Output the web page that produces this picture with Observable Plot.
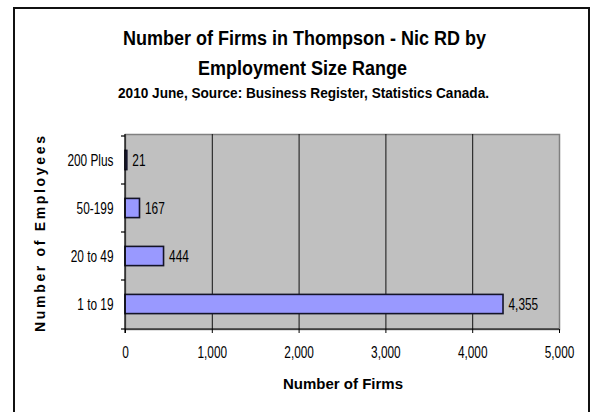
<!DOCTYPE html>
<html><head><meta charset="utf-8">
<script src="https://cdn.jsdelivr.net/npm/d3@7"></script>
<script src="https://cdn.jsdelivr.net/npm/@observablehq/plot@0.6"></script>
<style>
html,body{margin:0;padding:0;background:#fff;width:595px;height:412px;overflow:hidden;}
#wrap{position:relative;width:595px;height:412px;}
#chart{position:absolute;left:0;top:0;}
#border{position:absolute;left:13px;top:7px;width:577px;height:412px;border:2px solid #111;box-sizing:border-box;pointer-events:none;}
#overlay{position:absolute;left:0;top:0;pointer-events:none;}
#chart text{font-size:16px;}
</style></head><body>
<div id="wrap"><div id="chart"></div><div id="border"></div><svg id="overlay" width="595" height="412"></svg></div>
<script>
const categories = ["200 Plus","50-199","20 to 49","1 to 19"];
const firms = [21,167,444,4355];
const xTicks = [0,1000,2000,3000,4000,5000];
const gridValues = [1000,2000,3000,4000];
const title1 = "Number of Firms in Thompson - Nic RD by";
const title2 = "Employment Size Range";
const subtitle = "2010 June, Source: Business Register, Statistics Canada.";
const xTitle = "Number of Firms";
const yTitle = "Number of Employees";

const data = categories.map((c,i)=>({cat:c, value:firms[i]}));
const fmt = d3.format(",");
const narrow = '"Liberation Sans Narrow","Arial Narrow","Liberation Sans",Arial,sans-serif';

function axesLines(index, scales, values, dims) {
  const g = d3.create("svg:g").attr("stroke", "#000").attr("stroke-width", 1.2);
  const x0 = dims.marginLeft, x1 = dims.width - dims.marginRight;
  const y0 = dims.marginTop, y1 = dims.height - dims.marginBottom;
  g.append("line").attr("x1", x0).attr("x2", x0).attr("y1", y0).attr("y2", y1 + 4);
  g.append("line").attr("x1", x0).attr("x2", x1).attr("y1", y1).attr("y2", y1);
  const bounds = categories.map(c => scales.y(c)).concat([y1]);
  bounds.forEach(b => g.append("line").attr("x1", x0 - 4).attr("x2", x0).attr("y1", b).attr("y2", b));
  return g.node();
}

const chart = Plot.plot({
  width: 595, height: 412,
  marginLeft: 125, marginRight: 36, marginTop: 134, marginBottom: 83,
  style: {fontFamily: narrow, fontSize: "16px", color: "#000", background: "none"},
  x: {domain: [0, 5000], label: null},
  y: {domain: categories, padding: 0, label: null},
  marks: [
    Plot.frame({fill: "#C0C0C0", stroke: "#808080", strokeWidth: 1.5}),
    Plot.ruleX(gridValues, {stroke: "#111", strokeWidth: 1}),
    Plot.barX(data, {x: "value", y: "cat", fill: "#9999FF", stroke: "#141428", strokeWidth: 1.6, insetTop: 14.4, insetBottom: 14.4}),
    Plot.text(data, {x: "value", y: "cat", text: d => fmt(d.value), textAnchor: "start", dx: 5, fill: "#000", fontSize: 16}),
    Plot.axisX(xTicks, {tickFormat: fmt, tickSize: 4, tickPadding: 13, stroke: "#000", fill: "#000", label: null, fontSize: 16}),
    Plot.axisY(categories, {tickSize: 0, tickPadding: 12, label: null, fill: "#000", fontSize: 16}),
    axesLines
  ]
});
document.getElementById("chart").appendChild(chart);

// condense the sans-serif glyphs to mimic a narrow face
d3.select(chart).selectAll("text").each(function() {
  const len = this.getComputedTextLength();
  if (len > 0) {
    this.setAttribute("textLength", (len * 0.74).toFixed(1));
    this.setAttribute("lengthAdjust", "spacingAndGlyphs");
  }
});

const ov = d3.select("#overlay");
function addText(str, x, y, size, len, opts = {}) {
  const t = ov.append("text").attr("x", x).attr("y", y)
    .attr("font-family", opts.family || narrow).attr("font-weight", "bold")
    .attr("font-size", size).attr("fill", "#000")
    .attr("textLength", len).attr("lengthAdjust", opts.adjust || "spacingAndGlyphs")
    .text(str);
  if (opts.anchor) t.attr("text-anchor", opts.anchor);
  if (opts.transform) t.attr("transform", opts.transform);
  return t;
}
addText(title1, 123, 45, 20, 363);
addText(title2, 198, 75, 20, 209);
addText(subtitle, 118, 98, 14, 371);
addText(xTitle, 283, 389, 15, 120);
addText(yTitle, 0, 0, 14, 196, {family: '"Liberation Sans",Arial,sans-serif', anchor: "middle", adjust: "spacing", transform: "translate(45,234) rotate(-90)"});
</script>
</body></html>
